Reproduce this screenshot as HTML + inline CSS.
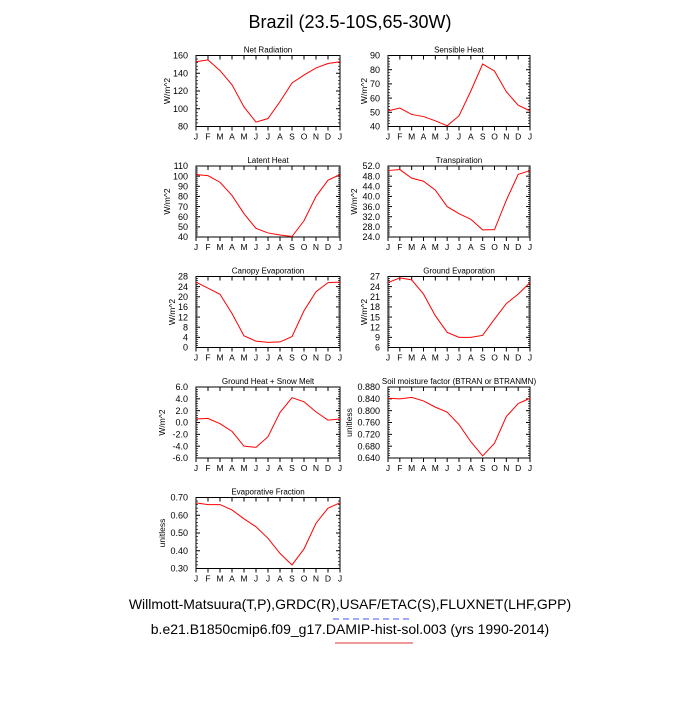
<!DOCTYPE html>
<html><head><meta charset="utf-8"><style>
body{margin:0;background:#fff;width:700px;height:700px;overflow:hidden}
svg text{font-family:"Liberation Sans",Arial,sans-serif}
</style></head><body>
<svg id="chart" width="700" height="700" xmlns="http://www.w3.org/2000/svg">
<rect width="700" height="700" fill="#fff"/>
<text x="350" y="28" font-size="18" text-anchor="middle">Brazil (23.5-10S,65-30W)</text>
<text x="350" y="609" font-size="14" text-anchor="middle">Willmott-Matsuura(T,P),GRDC(R),USAF/ETAC(S),FLUXNET(LHF,GPP)</text>
<line x1="333" y1="619" x2="413" y2="619" stroke="#4455ff" stroke-width="1" stroke-dasharray="6,4"/>
<text x="350" y="634" font-size="14" text-anchor="middle">b.e21.B1850cmip6.f09_g17.DAMIP-hist-sol.003 (yrs 1990-2014)</text>
<line x1="335" y1="643" x2="413" y2="643" stroke="#dd3333" stroke-width="1"/>
<g id="panels"></g>
</svg>
<script>
const months = ["J","F","M","A","M","J","J","A","S","O","N","D","J"];
const netRad = [153,155,143,127,102,85,89,108,129,138,146,151,153];
const sensible = [51,53,48.5,47,44,40.5,47.5,65,84,79,64.5,55,51];
const latent = [101.5,100.5,94,81,63,48.5,44,42,40.5,56,80,96,101.5];
const transp = [50.2,50.6,47.2,46,42.5,36,33.2,31,26.8,26.9,38.5,48.7,50.2];
const canopy = [25.8,23.4,21,13.4,4.6,2.5,2,2.2,4.3,14.5,22,25.6,25.8];
const groundEvap = [25.2,26.6,26,21.8,15.4,10.5,9,9,9.6,14.4,19,21.8,25.2];
const groundHeat = [0.6,0.7,-0.2,-1.5,-4,-4.2,-2.4,1.7,4.2,3.5,1.8,0.4,0.6];
const soil = [0.842,0.840,0.845,0.833,0.812,0.795,0.753,0.695,0.647,0.690,0.780,0.824,0.842];
const evapFrac = [0.67,0.66,0.66,0.63,0.58,0.535,0.47,0.385,0.32,0.41,0.555,0.64,0.67];
const ticksNet = ["80","100","120","140","160"];
const ticksSens = ["40","50","60","70","80","90"];
const ticksLat = ["40","50","60","70","80","90","100","110"];
const ticksTr = ["24.0","28.0","32.0","36.0","40.0","44.0","48.0","52.0"];
const ticksCan = ["0","4","8","12","16","20","24","28"];
const ticksGE = ["6","9","12","15","18","21","24","27"];
const ticksGH = ["-6.0","-4.0","-2.0","0.0","2.0","4.0","6.0"];
const ticksSoil = ["0.640","0.680","0.720","0.760","0.800","0.840","0.880"];
const ticksEF = ["0.30","0.40","0.50","0.60","0.70"];

const NS="http://www.w3.org/2000/svg";
const root=document.getElementById('panels');
function mk(tag,attrs,parent){const e=document.createElementNS(NS,tag);for(const k in attrs)e.setAttribute(k,attrs[k]);parent.appendChild(e);return e;}
const panels=[
 {t:"Net Radiation",d:netRad,ticks:ticksNet,u:"W/m^2",c:0,r:0,n:"net-radiation"},
 {t:"Sensible Heat",d:sensible,ticks:ticksSens,u:"W/m^2",c:1,r:0,n:"sensible-heat"},
 {t:"Latent Heat",d:latent,ticks:ticksLat,u:"W/m^2",c:0,r:1,n:"latent-heat"},
 {t:"Transpiration",d:transp,ticks:ticksTr,u:"W/m^2",c:1,r:1,n:"transpiration"},
 {t:"Canopy Evaporation",d:canopy,ticks:ticksCan,u:"W/m^2",c:0,r:2,n:"canopy-evaporation"},
 {t:"Ground Evaporation",d:groundEvap,ticks:ticksGE,u:"W/m^2",c:1,r:2,n:"ground-evaporation"},
 {t:"Ground Heat + Snow Melt",d:groundHeat,ticks:ticksGH,u:"W/m^2",c:0,r:3,n:"ground-heat"},
 {t:"Soil moisture factor (BTRAN or BTRANMN)",d:soil,ticks:ticksSoil,u:"unitless",c:1,r:3,n:"soil-moisture"},
 {t:"Evaporative Fraction",d:evapFrac,ticks:ticksEF,u:"unitless",c:0,r:4,n:"evaporative-fraction"}
];
panels.forEach(p=>{
 const L=p.c?388:196, W=p.c?142:144, T=55.5+p.r*110.5, H=71;
 const g=mk('g',{},root);
 
 
 const lo=parseFloat(p.ticks[0]), hi=parseFloat(p.ticks[p.ticks.length-1]);
 const x=i=>L+i*W/12, y=v=>T+H-(v-lo)/(hi-lo)*H;
 const maxc=Math.max(...p.ticks.map(s=>s.length));
 const tt=mk('text',{x:L+W/2,y:T-3,'font-size':8,'text-anchor':'middle'},g);tt.textContent=p.t;
 
 
 const yx=L-(11+maxc*5);
 const yt=mk('text',{x:0,y:0,'font-size':8.5,'text-anchor':'middle',transform:`translate(${yx},${T+H/2}) rotate(-90)`},g);yt.textContent=p.u;
 
 
 months.forEach((m,i)=>{
  mk('line',{x1:x(i),x2:x(i),y1:T+H,y2:T+H+4,stroke:'#000','stroke-width':1},g);
  mk('line',{x1:x(i),x2:x(i),y1:T,y2:T+4,stroke:'#000','stroke-width':1},g);
  const lb=mk('text',{x:x(i),y:T+H+13,'font-size':8.5,'text-anchor':'middle'},g);lb.textContent=m;
  
  
 });
 const nt=p.ticks.length;
 p.ticks.forEach((tk,i)=>{
  const yy=y(parseFloat(tk));
  mk('line',{x1:L,x2:L+4,y1:yy,y2:yy,stroke:'#000','stroke-width':1},g);
  mk('line',{x1:L+W-4,x2:L+W,y1:yy,y2:yy,stroke:'#000','stroke-width':1},g);
  const lb=mk('text',{x:L-8,y:yy+3.2,'font-size':9,'text-anchor':'end'},g);lb.textContent=tk;
  
  
  if(i<nt-1){for(let k=1;k<5;k++){const v=lo+(i+k/5)*(hi-lo)/(nt-1);const ym=y(v);
   mk('line',{x1:L,x2:L+2,y1:ym,y2:ym,stroke:'#000','stroke-width':0.7},g);
   mk('line',{x1:L+W-2,x2:L+W,y1:ym,y2:ym,stroke:'#000','stroke-width':0.7},g);}}
 });
 mk('rect',{x:L,y:T,width:W,height:H,fill:'none',stroke:'#000','stroke-width':1},g);
 const ln=mk('polyline',{points:p.d.map((v,i)=>x(i)+','+y(v)).join(' '),fill:'none',stroke:'#ff0000','stroke-width':1},g);
 
 
});
</script>
</body></html>
